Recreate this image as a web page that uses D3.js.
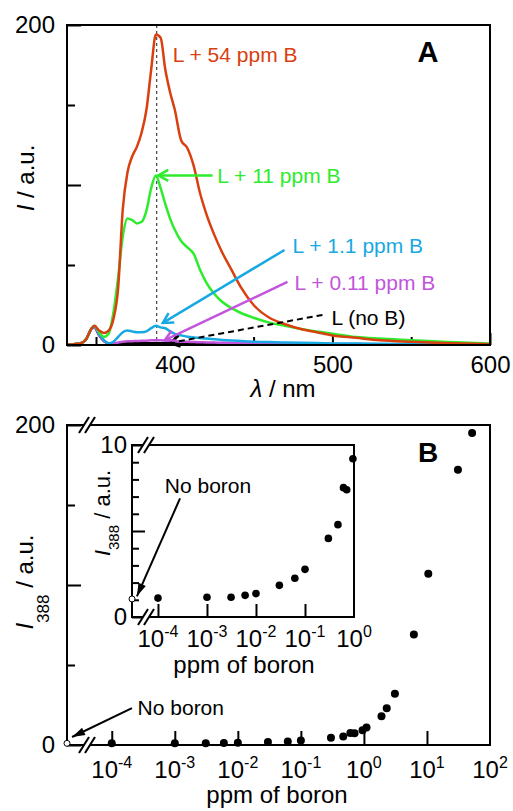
<!DOCTYPE html>
<html>
<head>
<meta charset="utf-8">
<script src="https://cdnjs.cloudflare.com/ajax/libs/d3/7.8.5/d3.min.js"></script>
<style>
body { margin: 0; background: #fff; }
svg { font-family: "Liberation Sans", Arial, Helvetica, sans-serif; }
</style>
</head>
<body>
<div id="chart"></div>
<script>
// ---- Panel A: emission spectra ----
var wavelength = [332, 336, 340, 344, 347, 349, 352, 355, 358, 361, 364, 367, 370, 373, 376, 379, 382, 385, 388, 391,
    394, 397, 400, 404, 408, 412, 416, 420, 425, 430, 436, 442, 450, 460, 470, 480, 490, 500, 515, 530, 550, 570, 600];
var spec54 = [0.3, 0.5, 1, 4, 10, 12, 9, 7.5, 9, 16, 35, 85, 108, 118, 124, 133, 147, 172, 194, 192,
    172, 158, 147, 128, 123, 112, 95, 82, 69, 58, 47, 36, 25, 17, 13, 10, 8, 6, 4.5, 3, 2, 1.2, 0.5];
var spec11 = [0.3, 0.5, 1, 4, 10, 12, 8, 5, 7, 20, 42, 68, 79, 78, 76, 77, 84, 98, 106, 98,
    88, 79, 72, 65, 61, 57, 47, 39, 32, 27, 23, 20, 17, 14, 12, 10, 8.5, 7, 5, 4, 3, 2, 1];
var spec1p1 = [0.3, 0.5, 1, 4, 10, 11.5, 7, 3, 1, 2, 5, 8, 9, 8.5, 8, 8, 8.5, 10.5, 12, 11,
    10.5, 8.5, 7, 6, 5.2, 4.7, 4.3, 4, 3.6, 3.2, 2.8, 2.5, 2.1, 1.8, 1.6, 1.4, 1.2, 1, 0.9, 0.8, 0.6, 0.5, 0.3];
var spec0p11 = [0.3, 0.5, 1, 4, 10, 11, 6, 2.5, 1, 1, 1.5, 2, 2.3, 2.4, 2.5, 2.6, 2.7, 2.9, 3, 2.9,
    2.7, 2.5, 2.3, 2.1, 2, 1.8, 1.7, 1.6, 1.5, 1.4, 1.3, 1.2, 1.1, 1, 0.9, 0.8, 0.75, 0.7, 0.6, 0.5, 0.4, 0.35, 0.3];
var specNoB = [0.3, 0.5, 1, 4, 10, 11, 6, 2.5, 1, 0.8, 0.9, 1, 1.1, 1.1, 1.1, 1.1, 1.1, 1.15, 1.2, 1.15,
    1.1, 1.05, 1, 0.95, 0.9, 0.85, 0.8, 0.75, 0.7, 0.65, 0.6, 0.55, 0.5, 0.45, 0.4, 0.37, 0.35, 0.32, 0.3, 0.28, 0.25, 0.22, 0.2];
var seriesNames = ["L (no B)", "L + 0.11 ppm B", "L + 1.1 ppm B", "L + 11 ppm B", "L + 54 ppm B"];
var seriesColors = ["#000000", "#c355dc", "#18a8e2", "#2cec2c", "#d9400f"];
var peakWavelength = 388.5;

// ---- Panel B: I388 vs boron concentration ----
var ppmBoron = [0.0001, 0.001, 0.0031, 0.006, 0.01, 0.03, 0.062, 0.1, 0.3, 0.47, 0.61, 0.71, 0.95, 1.1,
    1.9, 2.3, 3.1, 6.2, 10.5, 31, 52];
var i388 = [1.1, 1.15, 1.15, 1.26, 1.36, 1.84, 2.25, 2.77, 4.57, 5.37, 7.52, 7.4, 9.2, 11,
    18, 23, 32, 69, 107, 172, 195];
var noBoronI388 = 1.05;
var mainDecades = [-4, -3, -2, -1, 0, 1, 2];
var insetDecades = [-4, -3, -2, -1, 0];

var svgWidth = 513, svgHeight = 811;
var fontTick = 24, fontNote = 21;

var svg = d3.select("#chart").append("svg")
    .attr("width", svgWidth)
    .attr("height", svgHeight);

var defs = svg.append("defs");
// open chevron arrow heads, one per colour
seriesColors.forEach(function(c, i) {
    defs.append("marker")
        .attr("id", "arr" + i)
        .attr("viewBox", "-12 -7 14 14")
        .attr("refX", 0).attr("refY", 0)
        .attr("markerWidth", 14).attr("markerHeight", 14)
        .attr("markerUnits", "userSpaceOnUse")
        .attr("orient", "auto")
        .append("path")
        .attr("d", "M-10,-5.5L0,0L-10,5.5")
        .attr("fill", "none")
        .attr("stroke", c)
        .attr("stroke-width", 2.5);
});
defs.append("marker")
    .attr("id", "arrSolid")
    .attr("viewBox", "-14 -5 16 10")
    .attr("refX", 0).attr("refY", 0)
    .attr("markerWidth", 16).attr("markerHeight", 10)
    .attr("markerUnits", "userSpaceOnUse")
    .attr("orient", "auto")
    .append("path")
    .attr("d", "M-13,-4L0,0L-13,4Z")
    .attr("fill", "#000");

// =================== Panel A ===================
var boxA = {left: 67, right: 490, top: 25, bottom: 345};
var xA = d3.scaleLinear().domain([331.6, 600]).range([boxA.left, boxA.right]);
var yA = d3.scaleLinear().domain([0, 200]).range([boxA.bottom, boxA.top]);

var gA = svg.append("g");

// axes (ticks point inward)
gA.append("g")
    .attr("transform", `translate(0, ${boxA.bottom})`)
    .call(d3.axisBottom(xA).tickValues([350, 450, 550]).tickSize(-8).tickFormat(""));
gA.append("g")
    .attr("transform", `translate(0, ${boxA.bottom})`)
    .call(d3.axisBottom(xA).tickValues([400, 500, 600]).tickSize(-12).tickFormat(d3.format("d")))
    .selectAll("text")
    .attr("y", 28).attr("dy", null);
gA.append("g")
    .attr("transform", `translate(${boxA.left}, 0)`)
    .call(d3.axisLeft(yA).tickValues([50, 150]).tickSize(-8).tickFormat(""));
gA.append("g")
    .attr("transform", `translate(${boxA.left}, 0)`)
    .call(d3.axisLeft(yA).tickValues([0, 100, 200]).tickSize(-14).tickPadding(12)
        .tickFormat(function(d) { return d === 100 ? "" : d; }));

gA.selectAll(".domain").remove();
gA.selectAll(".tick line").attr("stroke-width", 2);
gA.selectAll(".tick text").attr("font-size", fontTick).attr("font-family", null).attr("fill", "#000");

// dotted line at the 388 nm peak
gA.append("line")
    .attr("x1", xA(peakWavelength)).attr("x2", xA(peakWavelength))
    .attr("y1", yA(200)).attr("y2", yA(0))
    .attr("stroke", "#444")
    .attr("stroke-width", 1.2)
    .attr("stroke-dasharray", "3,3");

var spectra = [specNoB, spec0p11, spec1p1, spec11, spec54];
var line = d3.line()
    .x(function(d, i) { return xA(wavelength[i]); })
    .y(function(d) { return yA(d); })
    .curve(d3.curveMonotoneX);

spectra.forEach(function(s, i) {
    gA.append("path")
        .attr("d", line(s))
        .attr("fill", "none")
        .attr("stroke", seriesColors[i])
        .attr("stroke-width", 2.5)
        .attr("stroke-linejoin", "round");
});

gA.append("rect")
    .attr("x", boxA.left).attr("y", boxA.top)
    .attr("width", boxA.right - boxA.left).attr("height", boxA.bottom - boxA.top)
    .attr("fill", "none").attr("stroke", "#000").attr("stroke-width", 2);

// labels and arrows, in data units: [text λ, text I, arrow start λ, I, arrow end λ, I]
var notesA = [
    [499.4, 12.5, 493.7, 18.8, 396.8, 1.3, true],
    [476, 34.4, 471.5, 39.4, 393.7, 3.1, false],
    [474.7, 57.5, 469.6, 59.4, 392.4, 13.8, false],
    [427, 101, 424, 106, 389.5, 106, false],
    [398.7, 177, null, null, null, null, false]
];
notesA.forEach(function(n, i) {
    if (n[2] !== null) {
        gA.append("line")
            .attr("x1", xA(n[2])).attr("y1", yA(n[3]))
            .attr("x2", xA(n[4])).attr("y2", yA(n[5]))
            .attr("stroke", seriesColors[i])
            .attr("stroke-width", n[6] ? 2 : 2.5)
            .attr("stroke-dasharray", n[6] ? "6,4" : null)
            .attr("marker-end", `url(#arr${i})`);
    }
    gA.append("text")
        .attr("x", xA(n[0])).attr("y", yA(n[1]))
        .attr("font-size", fontNote)
        .attr("fill", seriesColors[i])
        .text(seriesNames[i]);
});

gA.append("text")
    .attr("x", 428).attr("y", 62)
    .attr("text-anchor", "middle")
    .attr("font-size", 29).attr("font-weight", "bold")
    .text("A");

gA.append("text")
    .attr("transform", "translate(34, 178) rotate(-90)")
    .attr("text-anchor", "middle")
    .attr("font-size", 24)
    .call(function(t) {
        t.append("tspan").attr("font-style", "italic").text("I");
        t.append("tspan").text(" / a.u.");
    });
gA.append("text")
    .attr("x", 283).attr("y", 397)
    .attr("text-anchor", "middle")
    .attr("font-size", 24)
    .call(function(t) {
        t.append("tspan").attr("font-style", "italic").text("λ");
        t.append("tspan").text(" / nm");
    });

// =================== Panel B ===================
function axisBreak(g, x, y) {
    // the two slanted strokes of a "//" break mark
    g.append("path")
        .attr("d", `M${x - 5},${y + 8}L${x + 5},${y - 8}L${x + 11},${y - 8}L${x + 1},${y + 8}Z`)
        .attr("fill", "#fff");
    [0, 6].forEach(function(o) {
        g.append("line")
            .attr("x1", x - 5 + o).attr("y1", y + 8)
            .attr("x2", x + 5 + o).attr("y2", y - 8)
            .attr("stroke", "#000").attr("stroke-width", 2);
    });
}

function logLabels(g, scale, decades, baseline) {
    g.selectAll("text.loglab")
        .data(decades)
        .enter()
        .append("text")
        .attr("class", "loglab")
        .attr("x", function(d) { return scale(Math.pow(10, d)); })
        .attr("y", baseline)
        .attr("text-anchor", "middle")
        .attr("font-size", fontTick)
        .each(function(d) {
            var t = d3.select(this);
            t.append("tspan").text("10");
            t.append("tspan").attr("dy", -10).attr("font-size", 16).text(d);
        });
}

function i388Label(g, x, y, size, subSize, subShift) {
    g.append("text")
        .attr("transform", `translate(${x}, ${y}) rotate(-90)`)
        .attr("text-anchor", "middle")
        .attr("font-size", size)
        .call(function(t) {
            t.append("tspan").attr("font-style", "italic").text("I");
            t.append("tspan").attr("dy", subShift).attr("font-size", subSize).text("388");
            t.append("tspan").attr("dy", -subShift).text(" / a.u.");
        });
}

var boxB = {left: 67, right: 490, top: 425, bottom: 745};
var xB = d3.scaleLog().domain([Math.pow(10, -4.71), 100]).range([boxB.left, boxB.right]);
var yB = d3.scaleLinear().domain([0, 200]).range([boxB.bottom, boxB.top]);

var gB = svg.append("g");

gB.append("g")
    .attr("transform", `translate(0, ${boxB.bottom})`)
    .call(d3.axisBottom(xB).tickValues(mainDecades.slice(0, -1).map(function(d) { return Math.pow(10, d); }))
        .tickSize(-14).tickFormat(""));
gB.append("g")
    .attr("transform", `translate(${boxB.left}, 0)`)
    .call(d3.axisLeft(yB).tickValues([50, 150]).tickSize(-8).tickFormat(""));
gB.append("g")
    .attr("transform", `translate(${boxB.left}, 0)`)
    .call(d3.axisLeft(yB).tickValues([0, 100, 200]).tickSize(-14).tickPadding(12)
        .tickFormat(function(d) { return d === 100 ? "" : d; }));
gB.selectAll(".domain").remove();
gB.selectAll(".tick line").attr("stroke-width", 2);
gB.selectAll(".tick text").attr("font-size", fontTick).attr("font-family", null).attr("fill", "#000");

gB.append("rect")
    .attr("x", boxB.left).attr("y", boxB.top)
    .attr("width", boxB.right - boxB.left).attr("height", boxB.bottom - boxB.top)
    .attr("fill", "none").attr("stroke", "#000").attr("stroke-width", 2);

axisBreak(gB, 84, boxB.top);
axisBreak(gB, 84, boxB.bottom);
logLabels(gB, xB, mainDecades, 778);

gB.selectAll("circle.pt")
    .data(ppmBoron)
    .enter()
    .append("circle")
    .attr("class", "pt")
    .attr("cx", function(d) { return xB(d); })
    .attr("cy", function(d, i) { return yB(i388[i]); })
    .attr("r", 4)
    .attr("fill", "#000");

gB.append("circle")
    .attr("cx", xB.range()[0]).attr("cy", yB(noBoronI388))
    .attr("r", 3).attr("fill", "#fff").attr("stroke", "#000").attr("stroke-width", 1);

gB.append("line")
    .attr("x1", xB(Math.pow(10, -3.68))).attr("y1", yB(23))
    .attr("x2", xB(Math.pow(10, -4.63))).attr("y2", yB(5))
    .attr("stroke", "#000").attr("stroke-width", 2)
    .attr("marker-end", "url(#arrSolid)");
gB.append("text")
    .attr("x", xB(Math.pow(10, -3.59))).attr("y", yB(18.8))
    .attr("font-size", fontNote)
    .text("No boron");

gB.append("text")
    .attr("x", 428).attr("y", 462)
    .attr("text-anchor", "middle")
    .attr("font-size", 28).attr("font-weight", "bold")
    .text("B");

i388Label(gB, 33, 582, 24, 17, 16);
gB.append("text")
    .attr("x", 277).attr("y", 803)
    .attr("text-anchor", "middle")
    .attr("font-size", 24)
    .text("ppm of boron");

// ---- inset ----
var boxI = {left: 132, right: 354, top: 445, bottom: 617};
var xI = d3.scaleLog().domain([Math.pow(10, -4.53), 1]).range([boxI.left, boxI.right]);
var yI = d3.scaleLinear().domain([0, 10]).range([boxI.bottom, boxI.top]);

var gI = svg.append("g");
gI.append("rect")
    .attr("x", boxI.left).attr("y", boxI.top)
    .attr("width", boxI.right - boxI.left).attr("height", boxI.bottom - boxI.top)
    .attr("fill", "#fff");

gI.append("g")
    .attr("transform", `translate(0, ${boxI.bottom})`)
    .call(d3.axisBottom(xI).tickValues(insetDecades.slice(0, -1).map(function(d) { return Math.pow(10, d); }))
        .tickSize(-13).tickFormat(""));
gI.append("g")
    .attr("transform", `translate(${boxI.left}, 0)`)
    .call(d3.axisLeft(yI).tickValues([1, 2, 3, 4, 6, 7, 8, 9]).tickSize(-7).tickFormat(""));
gI.append("g")
    .attr("transform", `translate(${boxI.left}, 0)`)
    .call(d3.axisLeft(yI).tickValues([0, 5, 10]).tickSize(-13).tickPadding(5)
        .tickFormat(function(d) { return d === 5 ? "" : d; }));
gI.selectAll(".domain").remove();
gI.selectAll(".tick line").attr("stroke-width", 2);
gI.selectAll(".tick text").attr("font-size", fontTick).attr("font-family", null).attr("fill", "#000");

gI.append("rect")
    .attr("x", boxI.left).attr("y", boxI.top)
    .attr("width", boxI.right - boxI.left).attr("height", boxI.bottom - boxI.top)
    .attr("fill", "none").attr("stroke", "#000").attr("stroke-width", 2);

axisBreak(gI, 143, boxI.top);
axisBreak(gI, 143, boxI.bottom);
logLabels(gI, xI, insetDecades, 647);

var insetPpm = ppmBoron.filter(function(d) { return d <= 1; });
gI.selectAll("circle.pt")
    .data(insetPpm)
    .enter()
    .append("circle")
    .attr("class", "pt")
    .attr("cx", function(d) { return xI(d); })
    .attr("cy", function(d, i) { return yI(i388[i]); })
    .attr("r", 3.8)
    .attr("fill", "#000");

gI.append("circle")
    .attr("cx", xI.range()[0]).attr("cy", yI(noBoronI388))
    .attr("r", 3).attr("fill", "#fff").attr("stroke", "#000").attr("stroke-width", 1);

gI.append("line")
    .attr("x1", xI(Math.pow(10, -3.55))).attr("y1", yI(6.9))
    .attr("x2", xI(Math.pow(10, -4.43))).attr("y2", yI(1.2))
    .attr("stroke", "#000").attr("stroke-width", 2)
    .attr("marker-end", "url(#arrSolid)");
gI.append("text")
    .attr("x", xI(Math.pow(10, -3.86))).attr("y", yI(7.2))
    .attr("font-size", fontNote)
    .text("No boron");

i388Label(gI, 110, 513, 22, 15, 9);
gI.append("text")
    .attr("x", 244).attr("y", 673)
    .attr("text-anchor", "middle")
    .attr("font-size", 24)
    .text("ppm of boron");
</script>
</body>
</html>
